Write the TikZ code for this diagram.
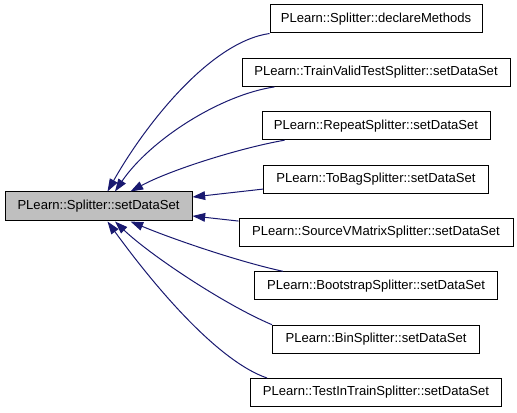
\documentclass[tikz,border=0pt]{standalone}
\usepackage{fontspec}
\setmainfont{Liberation Sans}
\usetikzlibrary{arrows.meta,calc}
\definecolor{edgeblue}{RGB}{25,25,112}
\definecolor{maingray}{RGB}{191,191,191}
\begin{document}
\begin{tikzpicture}[x=0.75pt,y=-0.75pt,
  box/.style={draw=black, line width=0.75pt, fill=white, minimum height=21pt,
    inner sep=0pt, font=\fontsize{9.8}{12}\selectfont},
  link/.style={draw=edgeblue, line width=0.75pt,
    -{Triangle[length=9.5pt,width=6.5pt,color=edgeblue]}}]
\useasboundingbox (0,0) rectangle (517,413);
\node[box, fill=maingray, minimum width=140.25pt, minimum height=21.75pt] (main) at (98.5,206.5) {PLearn::Splitter::setDataSet};
\node[box, minimum width=159pt]    (n1) at (376,19)    {PLearn::Splitter::declareMethods};
\node[box, minimum width=201pt]    (n2) at (376,72.4)  {PLearn::TrainValidTestSplitter::setDataSet};
\node[box, minimum width=171pt]    (n3) at (376,125.7) {PLearn::RepeatSplitter::setDataSet};
\node[box, minimum width=168.75pt] (n4) at (376,179.1) {PLearn::ToBagSplitter::setDataSet};
\node[box, minimum width=205.5pt]  (n5) at (376,232.4) {PLearn::SourceVMatrixSplitter::setDataSet};
\node[box, minimum width=182.25pt] (n6) at (376,285.8) {PLearn::BootstrapSplitter::setDataSet};
\node[box, minimum width=155.25pt] (n7) at (376,339.2) {PLearn::BinSplitter::setDataSet};
\node[box, minimum width=188.25pt] (n8) at (376,392.5) {PLearn::TestInTrainSplitter::setDataSet};

\draw[link] (n1.south west) .. controls (210,42) and (145,125) .. ([xshift=6.75pt]main.north);
\draw[link] ([xshift=24.75pt]n2.south west) .. controls (220,95) and (150,140) .. ([xshift=12.375pt]main.north);
\draw[link] ([xshift=17.25pt]n3.south west) .. controls (240,148) and (170,170) .. ([xshift=24pt]main.north);
\draw[link] ([yshift=-7.5pt]n4.west) -- ([yshift=7.1pt]main.east);
\draw[link] ([yshift=8.5pt]n5.west) -- ([yshift=-7.1pt]main.east);
\draw[link] ([xshift=21.75pt]n6.north west) .. controls (240,262) and (175,240) .. ([xshift=24pt]main.south);
\draw[link] (n7.north west) .. controls (225,305) and (150,255) .. ([xshift=12.375pt]main.south);
\draw[link] ([xshift=12.75pt]n8.north west) .. controls (215,360) and (150,280) .. ([xshift=6.75pt]main.south);
\end{tikzpicture}
\end{document}
